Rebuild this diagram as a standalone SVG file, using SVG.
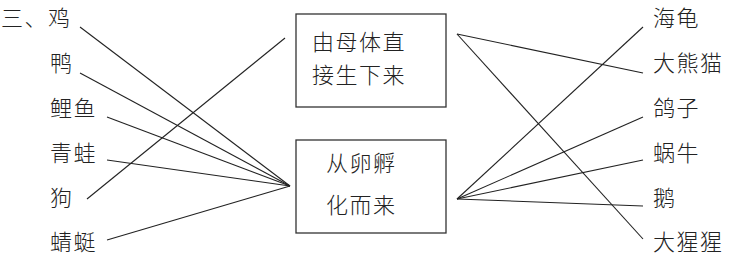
<svg xmlns="http://www.w3.org/2000/svg" width="754" height="255" viewBox="0 0 754 255">
<style>
text{font-family:"Noto Sans CJK SC","Noto Sans CJK JP",sans-serif;font-size:22px;fill:#222;letter-spacing:1.5px;font-weight:300}
.box{fill:#fff;stroke:#333;stroke-width:1.3}
.ln{stroke:#222;stroke-width:1.1;fill:none}
</style>
<rect width="754" height="255" fill="#fff"/>
<g id="connectors">
<line class="ln" x1="80" y1="27" x2="290" y2="186"/>
<line class="ln" x1="80" y1="73" x2="290" y2="186"/>
<line class="ln" x1="107" y1="117" x2="290" y2="186"/>
<line class="ln" x1="107" y1="160" x2="290" y2="186"/>
<line class="ln" x1="87" y1="199" x2="285" y2="38"/>
<line class="ln" x1="107" y1="240" x2="290" y2="186"/>
<line class="ln" x1="457" y1="34" x2="643" y2="73"/>
<line class="ln" x1="457" y1="34" x2="643" y2="239"/>
<line class="ln" x1="457" y1="199" x2="643" y2="27"/>
<line class="ln" x1="457" y1="199" x2="643" y2="117"/>
<line class="ln" x1="457" y1="199" x2="643" y2="160"/>
<line class="ln" x1="457" y1="199" x2="643" y2="206"/>
</g>
<g id="box1"><rect class="box" x="296" y="14" width="150" height="93"/>
<text x="312" y="50">由母体直</text><text x="312" y="83">接生下来</text></g>
<g id="box2"><rect class="box" x="296" y="140" width="150" height="93"/>
<text x="326" y="171">从卵孵</text><text x="326" y="213">化而来</text></g>
<g id="left">
<text x="1" y="26" letter-spacing="0">三、鸡</text>
<text x="50" y="71">鸭</text>
<text x="50" y="116">鲤鱼</text>
<text x="50" y="161">青蛙</text>
<text x="50" y="206">狗</text>
<text x="50" y="250">蜻蜓</text>
</g>
<g id="right">
<text x="653" y="26">海龟</text>
<text x="653" y="71">大熊猫</text>
<text x="653" y="116">鸽子</text>
<text x="653" y="161">蜗牛</text>
<text x="653" y="206">鹅</text>
<text x="653" y="250">大猩猩</text>
</g>
</svg>
